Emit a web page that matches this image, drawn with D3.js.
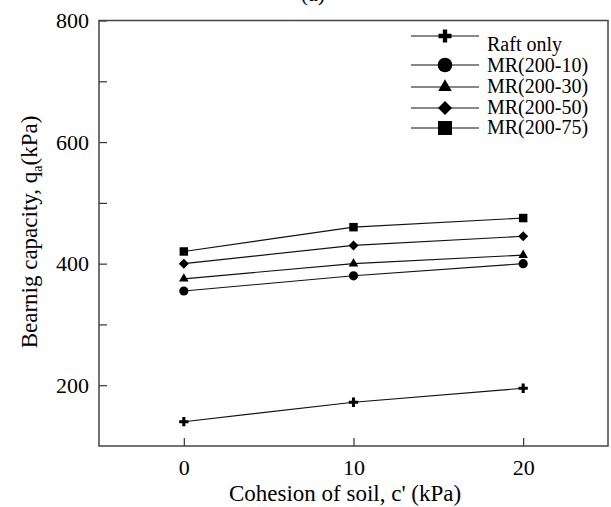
<!DOCTYPE html>
<html><head><meta charset="utf-8">
<script src="https://cdn.jsdelivr.net/npm/d3@7"></script>
<style>body{margin:0;background:#fff}svg{display:block}text{font-family:"Liberation Serif","Times New Roman",serif;fill:#000}</style>
</head><body><div id="chart"></div>
<script>
const cohesion = [0, 10, 20];
const raftOnly = [140, 172, 195];
const mr10 = [355, 380, 400];
const mr30 = [375, 400, 414];
const mr50 = [400, 430, 445];
const mr75 = [420, 460, 475];
const seriesNames = ["Raft only", "MR(200-10)", "MR(200-30)", "MR(200-50)", "MR(200-75)"];
const seriesValues = [raftOnly, mr10, mr30, mr50, mr75];
const seriesShapes = ["cross", "circle", "triangle", "diamond", "square"];
const yMajorTicks = [200, 400, 600, 800];
const yMinorTicks = [300, 500, 700];
const xTicks = [0, 10, 20];

const W = 611, H = 507;
const m = {left: 99, right: 3, top: 20.5, bottom: 61};
const svg = d3.select("#chart").append("svg").attr("width", W).attr("height", H);
const x = d3.scaleLinear().domain([-5, 25]).range([m.left, W - m.right]);
const y = d3.scaleLinear().domain([100, 800]).range([H - m.bottom, m.top]);

function shapePath(shape, big) {
  const sizes = big ? {cross: 94, circle: 167, triangle: 79, diamond: 98, square: 196}
                    : {cross: 48, circle: 66, triangle: 40, diamond: 50, square: 72};
  const t = {cross: d3.symbolCross, circle: d3.symbolCircle, triangle: d3.symbolTriangle,
             diamond: d3.symbolSquare, square: d3.symbolSquare}[shape];
  return d3.symbol().type(t).size(sizes[shape])();
}

// title (cut off at top, as in the reference)
svg.append("text").attr("x", 313).attr("y", 1).attr("text-anchor", "middle")
  .style("font-size", "22px").text("(a)");

// axes
const gx = svg.append("g").attr("transform", `translate(0,${y(100)})`)
  .call(d3.axisBottom(x).tickValues(xTicks).tickSize(-8).tickPadding(13).tickFormat(d3.format("d")));
const gy = svg.append("g").attr("transform", `translate(${x(-5)},0)`)
  .call(d3.axisLeft(y).tickValues(yMajorTicks).tickSize(-8).tickPadding(10).tickFormat(d3.format("d")));
svg.append("g").attr("transform", `translate(${x(-5)},0)`)
  .call(d3.axisLeft(y).tickValues(yMinorTicks).tickSize(-8).tickFormat(""))
  .select(".domain").remove();
[gx, gy].forEach(g => {
  g.select(".domain").remove();
  g.selectAll("text").style("font-size", "22px").style("font-family", "Liberation Serif");
});
svg.selectAll(".tick line").attr("stroke", "#333").attr("stroke-width", 1.2);
// frame
svg.append("rect").attr("x", x(-5)).attr("y", y(800)).attr("width", x(25) - x(-5)).attr("height", y(100) - y(800))
  .attr("fill", "none").attr("stroke", "#444").attr("stroke-width", 1.5);

// axis titles
svg.append("text").attr("x", 345).attr("y", 501).attr("text-anchor", "middle")
  .style("font-size", "23px").text("Cohesion of soil, c' (kPa)");
const yl = svg.append("text").attr("transform", "translate(37,232) rotate(-90)").attr("text-anchor", "middle")
  .style("font-size", "23px");
yl.append("tspan").text("Bearnig capacity, q");
yl.append("tspan").attr("dy", 5).style("font-size", "14px").text("a");
yl.append("tspan").attr("dy", -5).text("(kPa)");

// series
const line = d3.line().x((d, i) => x(cohesion[i])).y(d => y(d));
seriesValues.forEach((vals, k) => {
  svg.append("path").datum(vals).attr("d", line).attr("fill", "none").attr("stroke", "#111").attr("stroke-width", 1.1);
  svg.selectAll(null).data(vals).enter().append("path")
    .attr("d", shapePath(seriesShapes[k], false))
    .attr("transform", (d, i) => `translate(${x(cohesion[i])},${y(d)})` + (seriesShapes[k] === "diamond" ? " rotate(45)" : ""))
    .attr("fill", "#000");
});

// legend
const legRows = [36, 65, 87, 108, 128];
const legText = [44, 65, 86, 106.5, 127];
seriesNames.forEach((name, k) => {
  svg.append("line").attr("x1", 411).attr("x2", 479).attr("y1", legRows[k]).attr("y2", legRows[k])
    .attr("stroke", "#111").attr("stroke-width", 1.2);
  svg.append("path").attr("d", shapePath(seriesShapes[k], true))
    .attr("transform", `translate(445,${legRows[k]})` + (seriesShapes[k] === "diamond" ? " rotate(45)" : ""))
    .attr("fill", "#000");
  svg.append("text").attr("x", 487).attr("y", legText[k]).attr("dy", "0.35em")
    .style("font-size", "20px").text(name);
});
</script></body></html>
